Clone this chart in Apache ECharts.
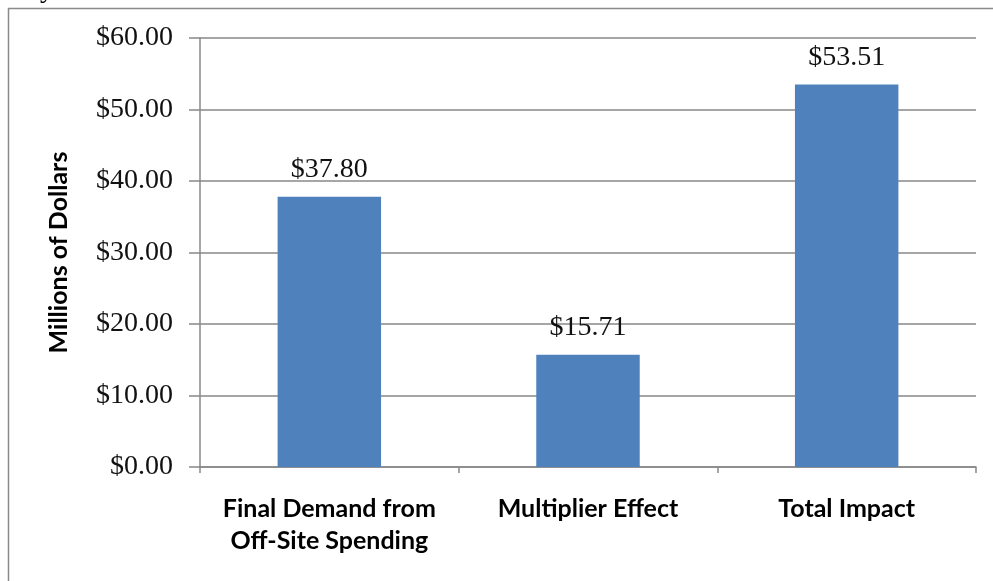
<!DOCTYPE html>
<html>
<head>
<meta charset="utf-8">
<script src="https://cdn.jsdelivr.net/npm/echarts@6/dist/echarts.min.js"></script>
<style>
html,body{margin:0;padding:0;background:#fff;}
#chart{width:993px;height:581px;}
</style>
</head>
<body>
<div id="chart"></div>
<script>
var categories = ['Final Demand from\nOff-Site Spending', 'Multiplier Effect', 'Total Impact'];
var values = [37.80, 15.71, 53.51];
var yAxisTitle = 'Millions of Dollars';
var yMin = 0, yMax = 60, yStep = 10;

var chart = echarts.init(document.getElementById('chart'), null, {renderer: 'canvas'});
var serif = '"Liberation Serif", "Times New Roman", serif';
var sans = 'Lato, "Open Sans", sans-serif';
chart.setOption({
  animation: false,
  backgroundColor: '#ffffff',
  graphic: [
    {type: 'rect', shape: {x: 8.5, y: 8.5, width: 1200, height: 800}, style: {fill: 'none', stroke: '#8a8a8a', lineWidth: 1.5}, z: 100},
    {type: 'text', x: 40, y: -24, style: {text: 'y', font: '28px "Liberation Serif", serif', fill: '#000', verticalAlign: 'top'}}
  ],
  grid: {left: 200, right: 17, top: 38, bottom: 114, containLabel: false},
  xAxis: {
    type: 'category',
    data: categories,
    boundaryGap: true,
    axisLine: {show: true, lineStyle: {color: '#888', width: 1.5}},
    axisTick: {show: true, length: 6, alignWithLabel: false, lineStyle: {color: '#888', width: 1.5}},
    axisLabel: {margin: 26, fontFamily: sans, fontWeight: 'bold', fontSize: 25, color: '#000', lineHeight: 32, interval: 0}
  },
  yAxis: {
    type: 'value',
    min: yMin, max: yMax, interval: yStep,
    name: yAxisTitle,
    nameLocation: 'middle',
    nameGap: 129,
    nameRotate: 90,
    nameTextStyle: {fontFamily: sans, fontWeight: 'bold', fontSize: 25, color: '#000'},
    axisLine: {show: true, lineStyle: {color: '#888', width: 1.5}},
    axisTick: {show: true, length: 11, inside: false, lineStyle: {color: '#888', width: 1.5}},
    splitLine: {show: true, lineStyle: {color: '#888', width: 1.5}},
    axisLabel: {margin: 27, fontFamily: serif, fontSize: 28, color: '#111',
      formatter: function (v) { return '$' + v.toFixed(2); }}
  },
  series: [{
    type: 'bar',
    data: values,
    barWidth: '40%',
    itemStyle: {color: '#4F81BD'},
    label: {show: true, position: 'top', distance: 13, fontFamily: serif, fontSize: 28, color: '#111',
      formatter: function (p) { return '$' + p.value.toFixed(2); }}
  }]
});
</script>
</body>
</html>
